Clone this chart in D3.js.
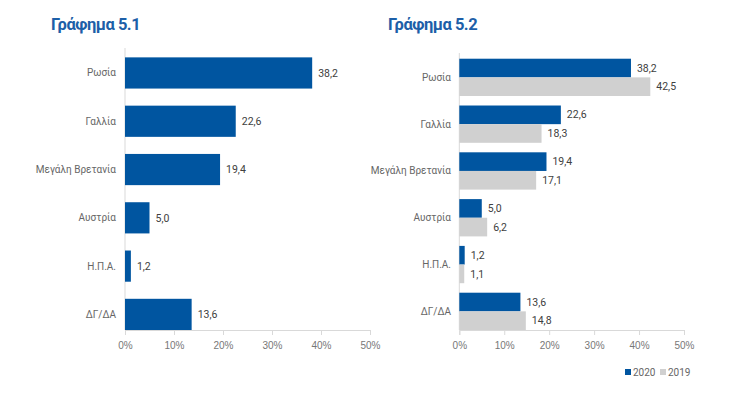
<!DOCTYPE html>
<html>
<head>
<meta charset="utf-8">
<script src="https://cdn.jsdelivr.net/npm/d3@7"></script>
<style>
  body { margin: 0; background: #fff; }
  svg { display: block; font-family: Roboto, "Noto Sans", sans-serif; }
  .title { font-weight: bold; fill: #1d5fa8; font-size: 16.5px; letter-spacing: -0.5px; }
  .cat { fill: #666; font-size: 10px; }
  .val { fill: #404040; font-size: 10.5px; }
  .tick text { fill: #777; font-size: 10px; }
</style>
</head>
<body>
<svg width="743" height="396"></svg>
<script>
const categories = ["Ρωσία", "Γαλλία", "Μεγάλη Βρετανία", "Αυστρία", "Η.Π.Α.", "ΔΓ/ΔΑ"];
const values2020 = [38.2, 22.6, 19.4, 5.0, 1.2, 13.6];
const values2019 = [42.5, 18.3, 17.1, 6.2, 1.1, 14.8];
const years = ["2020", "2019"];
const tickValues = [0, 10, 20, 30, 40, 50];

const blue = "#0055a0";
const grey = "#d0d0d0";
const axisGrey = "#d9d9d9";
const fmt = d => d.toFixed(1).replace(".", ",");

const svg = d3.select("svg");

function drawAxis(g, x, y0, yBottom) {
  // vertical baseline
  g.append("line")
    .attr("x1", x(0)).attr("x2", x(0))
    .attr("y1", y0).attr("y2", yBottom)
    .attr("stroke", axisGrey);
  const axis = d3.axisBottom(x).tickValues(tickValues).tickFormat(d => `${d}%`).tickSize(5).tickPadding(7);
  const ax = g.append("g").attr("transform", `translate(0,${yBottom})`).call(axis);
  ax.select(".domain").attr("stroke", axisGrey);
  ax.selectAll(".tick line").attr("stroke", axisGrey);
  ax.selectAll(".tick text").attr("font-family", null).attr("font-size", null);
}

// ---- Γράφημα 5.1
const x1 = d3.scaleLinear().domain([0, 50]).range([125, 370]);
const y1 = d3.scaleBand().domain(categories).range([48, 330]).paddingInner(0.354).paddingOuter(0.097).align(1);

const g1 = svg.append("g");
g1.append("text").attr("class", "title").attr("x", 51).attr("y", 30).text("Γράφημα 5.1");
drawAxis(g1, x1, 48, 330);

g1.selectAll("rect.bar")
  .data(values2020)
  .join("rect")
  .attr("class", "bar")
  .attr("x", x1(0))
  .attr("y", (d, i) => y1(categories[i]))
  .attr("width", d => x1(d) - x1(0))
  .attr("height", y1.bandwidth())
  .attr("fill", blue);

g1.selectAll("text.val")
  .data(values2020)
  .join("text")
  .attr("class", "val")
  .attr("x", d => x1(d) + 6)
  .attr("y", (d, i) => y1(categories[i]) + y1.bandwidth() / 2)
  .attr("dy", "0.35em")
  .text(fmt);

g1.selectAll("text.cat")
  .data(categories)
  .join("text")
  .attr("class", "cat")
  .attr("x", 116)
  .attr("y", d => y1(d) + y1.bandwidth() / 2)
  .attr("dy", "0.35em")
  .attr("text-anchor", "end")
  .text(d => d);

// ---- Γράφημα 5.2
const x2 = d3.scaleLinear().domain([0, 50]).range([459.3, 684]);
const y2 = d3.scaleBand().domain(categories).range([53, 330]).paddingInner(0.203).paddingOuter(0.061).align(1);
const ySub = d3.scaleBand().domain(years).range([0, y2.bandwidth()]);
const color = d3.scaleOrdinal().domain(years).range([blue, grey]);

const g2 = svg.append("g");
g2.append("text").attr("class", "title").attr("x", 388).attr("y", 30).text("Γράφημα 5.2");
drawAxis(g2, x2, 53, 330);

const rows = categories.map((c, i) => ({ cat: c, vals: [{ year: "2020", v: values2020[i] }, { year: "2019", v: values2019[i] }] }));

const grp = g2.selectAll("g.grp")
  .data(rows)
  .join("g")
  .attr("class", "grp")
  .attr("transform", d => `translate(0,${y2(d.cat)})`);

grp.selectAll("rect")
  .data(d => d.vals)
  .join("rect")
  .attr("x", x2(0))
  .attr("y", d => ySub(d.year))
  .attr("width", d => x2(d.v) - x2(0))
  .attr("height", ySub.bandwidth())
  .attr("fill", d => color(d.year));

grp.selectAll("text.val")
  .data(d => d.vals)
  .join("text")
  .attr("class", "val")
  .attr("x", d => x2(d.v) + 6)
  .attr("y", d => ySub(d.year) + ySub.bandwidth() / 2)
  .attr("dy", "0.35em")
  .text(d => fmt(d.v));

g2.selectAll("text.cat")
  .data(categories)
  .join("text")
  .attr("class", "cat")
  .attr("x", 451)
  .attr("y", d => y2(d) + y2.bandwidth() / 2)
  .attr("dy", "0.35em")
  .attr("text-anchor", "end")
  .text(d => d);

// legend
const legend = g2.append("g").attr("transform", "translate(625,372)");
const lg = legend.selectAll("g")
  .data(years)
  .join("g")
  .attr("transform", (d, i) => `translate(${i * 35},0)`);
lg.append("rect").attr("x", 0).attr("y", -3).attr("width", 6).attr("height", 6).attr("fill", d => color(d));
lg.append("text").attr("class", "cat").attr("x", 8).attr("y", 0).attr("dy", "0.35em").text(d => d);
</script>
</body>
</html>
